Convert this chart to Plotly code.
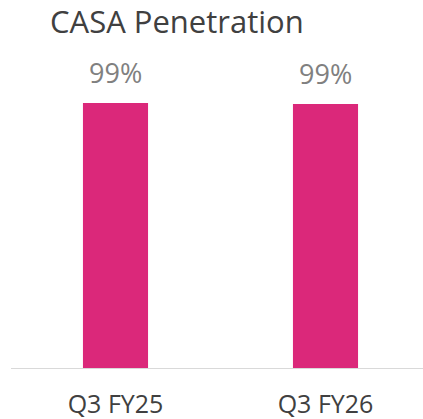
import plotly.graph_objects as go

categories = ["Q3 FY25", "Q3 FY26"]
values = [99.4, 99.0]
labels = ["99%", "99%"]
title_text = "CASA Penetration"

FONT = "Open Sans"

fig = go.Figure()
fig.add_trace(go.Bar(
    x=categories, y=values,
    marker=dict(color="#DB287A", line=dict(width=0)),
    width=0.31,
    hoverinfo="skip",
))

for c, v, t in zip(categories, values, labels):
    fig.add_annotation(x=c, y=v, text=t, showarrow=False,
                       yanchor="bottom", yshift=10,
                       font=dict(family=FONT, size=27, color="#808080"))

plot_left = 11
plot_w = 412
fig.update_layout(
    width=423, height=419,
    margin=dict(l=plot_left, r=423 - plot_left - plot_w, t=50, b=419 - 369.5),
    paper_bgcolor="white", plot_bgcolor="white",
    showlegend=False,
    title=dict(text=title_text, xref="container", yref="container",
               x=50/423, xanchor="left", y=1-22/419, yanchor="middle",
               font=dict(family=FONT, size=31, color="#404040")),
    xaxis=dict(range=[-0.4976, 1.4643], showgrid=False, zeroline=False,
               showline=False, ticks="", ticklabelstandoff=18,
               tickfont=dict(family=FONT, size=25, color="#404040"),
               fixedrange=True),
    yaxis=dict(range=[0, 119.2], visible=False, fixedrange=True),
)
fig.add_shape(type="line", xref="paper", yref="y", x0=0, x1=1, y0=0, y1=0,
              line=dict(color="#D9D9D9", width=2), layer="above")

fig.write_html("out.html", config={"displayModeBar": False},
               post_script="document.body.style.margin='0';")
